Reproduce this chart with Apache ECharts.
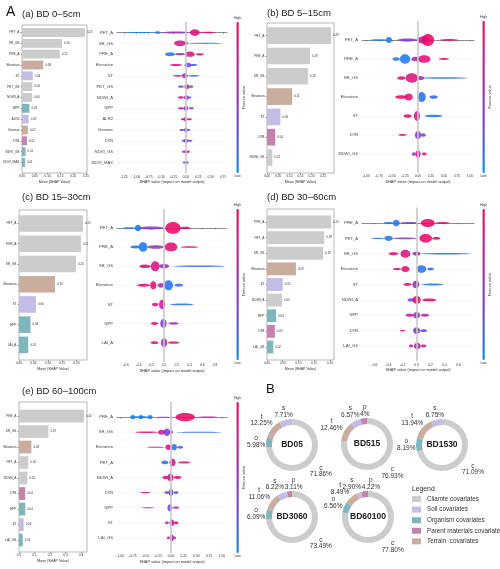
<!DOCTYPE html>
<html>
<head>
<meta charset="utf-8">
<script src="https://cdn.jsdelivr.net/npm/echarts@6/dist/echarts.min.js"></script>
<style>html,body{margin:0;background:#fff}#main{width:500px;height:569px}</style>
</head>
<body>
<div id="main"></div>
<script>
// ---- data ----
// bar panels: feature names, mean |SHAP|, covariate group
var featA = ['PET_A','SR_GS','PRE_A','Elevation','ST','PET_GS','NDWI_A','NPP','ALR2','Geomor','DTB','NDVI_GS','NDVI_MAX'];
var barA = [0.246,0.156,0.148,0.083,0.042,0.040,0.039,0.029,0.026,0.023,0.019,0.014,0.012];
var grpA = ['c','c','c','t','s','c','c','o','s','t','p','o','o'];

var featB = ['PET_A','PRE_A','SR_GS','Elevation','ST','DTB','NDWI_GS'];
var barB = [0.287,0.193,0.183,0.113,0.060,0.037,0.024];
var grpB = ['c','c','c','t','s','p','c'];

var featC = ['PET_A','PRE_A','SR_GS','Elevation','ST','NPP','LAI_A'];
var barC = [0.222,0.215,0.198,0.125,0.059,0.040,0.032];
var grpC = ['c','c','c','t','s','o','o'];

var featD = ['PRE_A','PET_A','SR_GS','Elevation','ST','NDWI_A','NPP','DTB','LAI_GS'];
var barD = [0.204,0.182,0.178,0.092,0.050,0.048,0.029,0.025,0.020];
var grpD = ['c','c','c','t','s','c','o','p','o'];

var featE = ['PRE_A','SR_GS','Elevation','PET_A','NDWI_A','DTB','NPP','ST','LAI_GS'];
var barE = [0.42,0.19,0.08,0.06,0.054,0.04,0.04,0.03,0.024];
var grpE = ['c','c','t','c','c','p','o','s','o'];

// beeswarm clumps: [row, shap centre, shap half-spread, relative density, feature value 0-1]
var swarmA = [
  [0,-0.93,0.30,0.12,0.05],[0,-0.57,0.06,0.4,0.1],[0,-0.20,0.28,0.3,0.45],[0,0.44,0.15,0.2,0.9],[0,0.18,0.10,1.0,0.85],
  [1,0.39,0.35,0.18,0.1],[1,0.0,0.05,0.4,0.5],[1,-0.12,0.12,0.85,0.8],
  [2,-0.12,0.1,0.35,0.45],[2,0.28,0.08,0.3,0.9],[2,-0.32,0.1,0.6,0.1],[2,0.08,0.1,0.8,0.8],
  [3,-0.2,0.12,0.3,0.85],[3,0.15,0.08,0.3,0.2],[3,0.04,0.07,0.7,0.3],
  [4,-0.16,0.1,0.25,0.85],[4,0.16,0.12,0.25,0.15],[4,-0.02,0.06,0.75,0.5],
  [5,-0.1,0.06,0.35,0.2],[5,0.1,0.05,0.35,0.4],[5,0.02,0.05,0.7,0.7],
  [6,-0.1,0.06,0.35,0.8],[6,0.07,0.04,0.3,0.2],[6,0.01,0.05,0.7,0.5],
  [7,-0.1,0.06,0.35,0.8],[7,0.11,0.05,0.3,0.3],[7,0.0,0.05,0.7,0.5],
  [8,-0.06,0.04,0.3,0.8],[8,0.07,0.05,0.3,0.8],[8,-0.01,0.04,0.65,0.6],
  [9,-0.08,0.05,0.3,0.3],[9,0.06,0.03,0.3,0.2],[9,0.0,0.04,0.65,0.4],
  [10,-0.05,0.03,0.3,0.2],[10,0.08,0.05,0.3,0.3],[10,0.0,0.05,0.6,0.4],
  [11,-0.05,0.03,0.3,0.3],[11,0.05,0.03,0.3,0.9],[11,0.0,0.04,0.5,0.6],
  [12,-0.04,0.02,0.3,0.3],[12,0.04,0.02,0.3,0.5],[12,0.0,0.03,0.55,0.7]
];
var swarmB = [
  [0,-0.75,0.17,0.12,0.05],[0,-0.56,0.06,0.5,0.08],[0,-0.2,0.2,0.25,0.35],[0,0.6,0.17,0.15,0.9],[0,0.1,0.12,0.6,0.65],[0,0.19,0.12,1.0,0.9],
  [1,-0.42,0.07,0.3,0.1],[1,-0.05,0.08,0.4,0.5],[1,0.5,0.1,0.15,0.9],[1,-0.25,0.1,0.8,0.08],[1,0.12,0.12,0.65,0.85],
  [2,0.5,0.45,0.12,0.1],[2,-0.32,0.08,0.3,0.85],[2,0.05,0.07,0.35,0.5],[2,-0.12,0.12,0.8,0.8],
  [3,-0.32,0.12,0.3,0.9],[3,0.3,0.08,0.3,0.15],[3,-0.18,0.08,0.6,0.85],[3,0.07,0.08,0.85,0.1],
  [4,-0.2,0.08,0.3,0.9],[4,0.3,0.17,0.2,0.1],[4,-0.02,0.06,0.85,0.75],
  [5,-0.3,0.08,0.15,0.9],[5,0.1,0.05,0.3,0.3],[5,0.0,0.06,0.7,0.4],
  [6,-0.08,0.04,0.3,0.3],[6,0.12,0.05,0.25,0.7],[6,0.0,0.05,0.65,0.65]
];
var swarmC = [
  [0,-0.55,0.1,0.12,0.05],[0,-0.41,0.05,0.55,0.08],[0,-0.2,0.2,0.25,0.4],[0,0.33,0.08,0.2,0.9],[0,0.14,0.12,1.0,0.9],
  [1,-0.45,0.08,0.25,0.1],[1,-0.13,0.13,0.3,0.45],[1,0.4,0.14,0.15,0.9],[1,-0.33,0.07,0.8,0.08],[1,0.11,0.1,0.75,0.85],
  [2,0.55,0.4,0.12,0.1],[2,-0.3,0.09,0.3,0.85],[2,0.0,0.08,0.35,0.5],[2,-0.14,0.07,0.85,0.8],
  [3,-0.32,0.1,0.25,0.9],[3,0.23,0.07,0.25,0.15],[3,-0.05,0.05,0.4,0.6],[3,-0.17,0.05,0.7,0.85],[3,0.07,0.07,0.85,0.1],
  [4,-0.14,0.05,0.3,0.85],[4,0.28,0.18,0.15,0.1],[4,-0.03,0.05,0.8,0.7],
  [5,-0.15,0.06,0.25,0.8],[5,0.15,0.08,0.2,0.5],[5,-0.01,0.05,0.75,0.4],
  [6,-0.15,0.06,0.25,0.85],[6,0.15,0.09,0.2,0.85],[6,0.0,0.05,0.75,0.5]
];
var swarmD = [
  [0,-0.4,0.07,0.2,0.08],[0,-0.1,0.13,0.2,0.4],[0,0.37,0.1,0.2,0.85],[0,-0.29,0.05,0.7,0.08],[0,0.16,0.1,0.85,0.9],
  [1,-0.55,0.1,0.15,0.05],[1,-0.17,0.18,0.2,0.4],[1,0.28,0.06,0.3,0.9],[1,-0.4,0.06,0.55,0.08],[1,0.13,0.09,0.9,0.9],
  [2,0.42,0.35,0.15,0.1],[2,-0.33,0.07,0.3,0.9],[2,0.0,0.06,0.4,0.5],[2,-0.16,0.07,0.85,0.8],
  [3,-0.28,0.06,0.25,0.9],[3,0.2,0.05,0.3,0.15],[3,-0.16,0.06,0.65,0.85],[3,0.07,0.07,0.8,0.1],
  [4,-0.13,0.06,0.3,0.85],[4,0.23,0.15,0.2,0.1],[4,-0.01,0.05,0.8,0.5],
  [5,-0.08,0.05,0.35,0.3],[5,0.18,0.1,0.3,0.9],[5,0.0,0.06,0.8,0.85],
  [6,-0.1,0.06,0.3,0.8],[6,0.12,0.06,0.3,0.6],[6,0.0,0.05,0.7,0.5],
  [7,-0.2,0.04,0.15,0.9],[7,0.1,0.05,0.3,0.3],[7,0.0,0.05,0.7,0.4],
  [8,-0.08,0.03,0.3,0.85],[8,0.1,0.04,0.3,0.7],[8,0.01,0.05,0.7,0.6]
];
var swarmE = [
  [0,-0.6,0.2,0.2,0.1],[0,-0.15,0.15,0.08,0.5],[0,0.72,0.2,0.15,0.7],[0,-0.75,0.05,0.45,0.05],[0,-0.59,0.05,0.45,0.05],[0,-0.41,0.05,0.45,0.05],[0,0.28,0.19,0.9,0.9],
  [1,-0.48,0.22,0.15,0.9],[1,0.55,0.45,0.12,0.1],[1,-0.18,0.08,0.5,0.7],[1,0.0,0.04,0.4,0.5],[1,-0.08,0.06,0.8,0.35],
  [2,-0.3,0.17,0.12,0.9],[2,0.18,0.06,0.3,0.2],[2,-0.05,0.06,0.6,0.85],[2,0.06,0.06,0.7,0.1],
  [3,-0.12,0.07,0.4,0.1],[3,0.26,0.12,0.2,0.95],[3,0.03,0.06,0.8,0.75],
  [4,-0.1,0.07,0.35,0.8],[4,0.13,0.08,0.3,0.85],[4,-0.01,0.06,0.8,0.75],
  [5,-0.5,0.1,0.12,0.9],[5,-0.08,0.05,0.3,0.4],[5,0.1,0.05,0.3,0.3],[5,0.0,0.05,0.75,0.25],
  [6,-0.45,0.12,0.12,0.85],[6,0.1,0.06,0.25,0.6],[6,-0.02,0.05,0.75,0.3],
  [7,-0.08,0.04,0.3,0.5],[7,0.1,0.05,0.3,0.9],[7,0.02,0.05,0.7,0.7],
  [8,-0.05,0.03,0.3,0.9],[8,0.07,0.03,0.3,0.5],[8,0.02,0.04,0.7,0.6]
];

// tick labels
var barTicks25 = [0,0.05,0.10,0.15,0.20,0.25];
var barTicks20 = [0,0.05,0.10,0.15,0.20];
var barTicksE = [0,0.1,0.2,0.3,0.4];
var shapTicksA = [-1.25,-1.0,-0.75,-0.5,-0.25,0,0.25,0.5,0.75];
var shapTicksB = [-1.0,-0.75,-0.5,-0.25,0,0.25,0.5,0.75,1.0];
var shapTicksC = [-0.6,-0.4,-0.2,0,0.2,0.4,0.6,0.8];
var shapTicksD = [-0.6,-0.4,-0.2,0,0.2,0.4,0.6];
var shapTicksE = [-1.0,-0.75,-0.5,-0.25,0,0.25,0.5,0.75,1.0];

// donut shares (%) in order c, o, t, s, p
var donutNames = ['BD05','BD515','BD1530','BD3060','BD60100'];
var donutKeys = ['c','o','t','s','p'];
var shareBD05 = [71.86,5.98,12.25,7.71,0];
var shareBD515 = [76.93,0,12.46,6.57,4];
var shareBD1530 = [71.09,8.19,13.94,6.75,0];
var shareBD3060 = [73.49,6.09,11.06,6.22,3.11];
var shareBD60100 = [77.80,6.56,8.49,2.90,4.22];
var legendNames = ['Cliamte covariates','Soil covariates','Organism covariates','Parent materials covariates','Terrain  covariates'];

// ---- styles ----
var grpColor = {c:'#cccccc', s:'#c3bde6', o:'#7fb6be', p:'#c582ad', t:'#c9ad9f'};
var grpName = {c:'Cliamte covariates', s:'Soil covariates', o:'Organism covariates', p:'Parent materials covariates', t:'Terrain  covariates'};
var shapColors = ['#008bfb','#7a3fd8','#c21fa0','#ff0052'];
var txt = '#333';
var fontFam = 'Liberation Sans, Arial, sans-serif';

var chart = echarts.init(document.getElementById('main'));
var option = {
  animation: false,
  backgroundColor: '#fff',
  textStyle: {fontFamily: fontFam},
  title: [], grid: [], xAxis: [], yAxis: [], series: [], visualMap: [], graphic: []
};

function fmt(dec) { return function (v) { return v.toFixed(dec); }; }
function pct(v) { return (Number.isInteger(v) ? v : v.toFixed(2)) + '%'; }

function addPanel(p) {
  var g = option.grid.length;
  var n = p.feat.length;
  option.title.push({text: p.title, left: p.tx, top: p.ty, padding: 0,
    textStyle: {fontSize: 9.5, fontWeight: 'normal', color: '#222'}});

  // frame of the bar plot, carries the visible x axis
  option.grid.push({left: p.frame[0], top: p.frame[1], width: p.frame[2], height: p.frame[3],
    show: true, borderColor: '#9a9a9a', borderWidth: 0.7});
  option.xAxis.push({gridIndex: g, type: 'value', min: 0, max: p.barMax,
    axisLine: {show: false},
    axisTick: {show: true, length: 1.5, customValues: p.barTicks, lineStyle: {color: '#555', width: 0.5}},
    axisLabel: {customValues: p.barTicks, fontSize: 3.2, color: txt, margin: 2, formatter: fmt(p.barDec)},
    splitLine: {show: false},
    name: 'Mean |SHAP Value|', nameLocation: 'middle', nameGap: 7,
    nameTextStyle: {fontSize: 3.6, color: txt}});
  option.yAxis.push({gridIndex: g, type: 'value', show: false});

  // bar rows
  option.grid.push({left: p.frame[0], top: p.band[0], width: p.frame[2], height: p.band[1] - p.band[0]});
  option.xAxis.push({gridIndex: g + 1, type: 'value', min: 0, max: p.barMax, show: false});
  option.yAxis.push({gridIndex: g + 1, type: 'category', inverse: true, data: p.feat,
    axisLine: {show: false},
    axisTick: {show: true, length: 1.5, alignWithLabel: true, lineStyle: {color: '#555', width: 0.5}},
    axisLabel: {fontSize: 3.2, color: txt, margin: 2.5}});
  option.series.push({type: 'bar', xAxisIndex: g + 1, yAxisIndex: g + 1, silent: true,
    barCategoryGap: '18%',
    data: p.bar.map(function (v, i) { return {value: v, itemStyle: {color: grpColor[p.grp[i]]}}; }),
    label: {show: true, position: 'right', distance: 2, fontSize: 2.9, color: txt,
      formatter: function (q) { return q.value.toFixed(2); }}});

  // beeswarm
  option.grid.push({left: p.sw[0], top: p.sw[1], width: p.sw[2], height: p.sw[3]});
  option.xAxis.push({gridIndex: g + 2, type: 'value', min: p.shapMin, max: p.shapMax,
    axisLine: {show: true, lineStyle: {color: '#444', width: 0.6}},
    axisTick: {show: true, length: 1.5, customValues: p.shapTicks, lineStyle: {color: '#444', width: 0.5}},
    axisLabel: {customValues: p.shapTicks, fontSize: 3.3, color: txt, margin: 2, formatter: fmt(p.shapDec)},
    splitLine: {show: false},
    name: 'SHAP value (impact on model output)', nameLocation: 'middle', nameGap: 7,
    nameTextStyle: {fontSize: 3.9, color: txt}});
  option.yAxis.push({gridIndex: g + 2, type: 'value', inverse: true, min: -1, max: n, interval: 1,
    axisLine: {show: false}, axisTick: {show: false},
    axisLabel: {fontSize: 4.2, color: '#444', margin: 4,
      formatter: function (v) { return p.feat[v] || ''; }},
    splitLine: {show: true, showMinLine: false, showMaxLine: false,
      lineStyle: {color: '#d8d8d8', width: 0.5, type: [1, 1.5]}}});
  option.series.push({type: 'line', xAxisIndex: g + 2, yAxisIndex: g + 2, data: [], z: 1,
    markLine: {silent: true, symbol: 'none', label: {show: false},
      lineStyle: {color: '#c9c9c9', width: 1.6, type: 'solid'}, data: [{xAxis: 0}]}});
  var si = option.series.length;
  option.series.push({type: 'custom', xAxisIndex: g + 2, yAxisIndex: g + 2, z: 3, silent: true,
    encode: {x: 1, y: 0}, data: p.swarm,
    renderItem: function (params, api) {
      var row = api.value(0), c = api.value(1), s = api.value(2), d = api.value(3);
      var a = api.coord([c - s, row]), b = api.coord([c + s, row]);
      var unit = Math.abs(api.coord([c, row + 1])[1] - a[1]);
      return {type: 'ellipse',
        shape: {cx: (a[0] + b[0]) / 2, cy: a[1], rx: Math.max(0.6, (b[0] - a[0]) / 2), ry: Math.max(0.45, d * unit * 0.31)},
        style: {fill: api.visual('color'), opacity: 0.88}};
    }});
  option.visualMap.push({type: 'continuous', seriesIndex: si, dimension: 4, min: 0, max: 1,
    inRange: {color: shapColors}, orient: 'vertical', calculable: false, padding: 0,
    left: p.cb[0], top: p.cb[1] - 5.5, itemWidth: 2.4, itemHeight: p.cb[2],
    text: ['High', 'Low'], textGap: 1.5, textStyle: {fontSize: 3.5, color: txt}});
  option.graphic.push({type: 'text', x: p.cb[0] + 10, y: p.cb[1] + p.cb[2] / 2, rotation: Math.PI / 2,
    style: {text: 'Feature value', fontSize: 3.8, fill: txt, align: 'center', verticalAlign: 'middle'}});
}

addPanel({feat: featA, bar: barA, grp: grpA, swarm: swarmA, title: '(a) BD 0\u20135cm', tx: 22, ty: 9,
  frame: [22, 25, 65, 148], band: [27.1, 167.9], barMax: 0.254, barTicks: barTicks25, barDec: 2,
  sw: [117, 21.7, 110, 151.6], shapMin: -1.39, shapMax: 0.83, shapTicks: shapTicksA, shapDec: 2,
  cb: [234, 22, 151]});
addPanel({feat: featB, bar: barB, grp: grpB, swarm: swarmB, title: '(b) BD 5\u201315cm', tx: 267, ty: 8,
  frame: [267, 23, 67, 150], band: [25.5, 167.7], barMax: 0.30, barTicks: barTicks25, barDec: 2,
  sw: [362, 21, 112, 152], shapMin: -1.08, shapMax: 1.08, shapTicks: shapTicksB, shapDec: 2,
  cb: [480, 21, 152]});
addPanel({feat: featC, bar: barC, grp: grpC, swarm: swarmC, title: '(c) BD 15\u201330cm', tx: 22, ty: 192,
  frame: [19, 210, 68, 150], band: [213.4, 355], barMax: 0.236, barTicks: barTicks20, barDec: 2,
  sw: [117, 208.8, 110, 153], shapMin: -0.74, shapMax: 0.99, shapTicks: shapTicksC, shapDec: 1,
  cb: [234, 209, 151]});
addPanel({feat: featD, bar: barD, grp: grpD, swarm: swarmD, title: '(d) BD 30\u201360cm', tx: 267, ty: 192,
  frame: [267, 209, 67, 151], band: [214.2, 354.8], barMax: 0.213, barTicks: barTicks20, barDec: 2,
  sw: [362, 207.6, 112, 153.8], shapMin: -0.78, shapMax: 0.82, shapTicks: shapTicksD, shapDec: 1,
  cb: [480, 209, 151]});
addPanel({feat: featE, bar: barE, grp: grpE, swarm: swarmE, title: '(e) BD 60\u2013100cm', tx: 22, ty: 386,
  frame: [19, 402, 68, 150], band: [408.3, 547.8], barMax: 0.439, barTicks: barTicksE, barDec: 1,
  sw: [117, 402, 110, 151], shapMin: -1.06, shapMax: 1.1, shapTicks: shapTicksE, shapDec: 2,
  cb: [234, 402, 151]});

option.title.push({text: 'A', left: 6, top: 5, padding: 0, textStyle: {fontSize: 14, fontWeight: 'normal', color: '#111'}});
option.title.push({text: 'B', left: 266, top: 383, padding: 0, textStyle: {fontSize: 13, fontWeight: 'normal', color: '#111'}});
option.title.push({text: 'Legend', left: 412, top: 486, padding: 0, textStyle: {fontSize: 6.8, fontWeight: 'normal', color: txt}});

// donuts
var ringR = [20, 26];
var labelFont = 6.5, labelLH = 6.6;
var shares = [shareBD05, shareBD515, shareBD1530, shareBD3060, shareBD60100];
var centres = [[292, 445], [367, 444], [442, 445], [292, 517], [368, 517]];
var measureCtx = document.createElement('canvas').getContext('2d');
measureCtx.font = labelFont + 'px ' + fontFam;

// label centres: along each slice's mid direction, just clear of the ring,
// neighbours pushed apart sideways when their boxes touch
function placeLabels(data, centre) {
  var total = 0;
  data.forEach(function (it) { total += it.value; });
  var before = 0, out = [];
  data.forEach(function (it) {
    var mid = (before + it.value / 2) / total * 2 * Math.PI;
    before += it.value;
    var ux = Math.sin(mid), uy = -Math.cos(mid);
    var w = measureCtx.measureText(pct(it.value)).width / 2, h = labelLH;
    var d = ringR[1];
    while (d < ringR[1] + 40) {
      var nx = Math.max(0, Math.abs(d * ux) - w), ny = Math.max(0, Math.abs(d * uy) - h);
      if (Math.sqrt(nx * nx + ny * ny) >= ringR[1] + 0.5) break;
      d += 0.25;
    }
    out.push({x: centre[0] + d * ux, y: centre[1] + d * uy, w: w, h: h});
  });
  for (var i = 0; i < out.length; i++) {
    var a = out[i], b = out[(i + 1) % out.length];
    if (a === b) continue;
    var ox = a.w + b.w - Math.abs(a.x - b.x), oy = a.h + b.h - Math.abs(a.y - b.y);
    if (ox > 0 && oy > 0) {
      var sgn = a.x < b.x ? 1 : -1;
      a.x -= sgn * (ox / 2 + 0.3);
      b.x += sgn * (ox / 2 + 0.3);
    }
  }
  return out;
}

var pieLabels = {};
shares.forEach(function (arr, k) {
  var data = [];
  arr.forEach(function (v, i) {
    if (v > 0) data.push({name: grpName[donutKeys[i]], key: donutKeys[i], value: v,
      itemStyle: {color: grpColor[donutKeys[i]]}});
  });
  pieLabels[option.series.length] = placeLabels(data, centres[k]);
  option.series.push({type: 'pie', center: centres[k], radius: ringR, startAngle: 90, clockwise: true,
    avoidLabelOverlap: false, silent: true, data: data,
    label: {show: true, position: 'outside', color: txt, fontSize: labelFont, lineHeight: labelLH,
      formatter: function (q) { return q.data.key + '\n' + pct(q.value); }},
    labelLine: {show: false, length: 2, length2: 0},
    labelLayout: function (q) {
      var pos = pieLabels[q.seriesIndex][q.dataIndex];
      return {x: pos.x, y: pos.y, align: 'center', verticalAlign: 'middle', hideOverlap: false};
    }});
  option.graphic.push({type: 'text', x: centres[k][0], y: centres[k][1],
    style: {text: donutNames[k], fontSize: 8.5, fontWeight: 'bold', fill: '#222', align: 'center', verticalAlign: 'middle'}});
});

option.legend = {data: legendNames, orient: 'vertical', left: 412, top: 496, padding: 0,
  itemWidth: 9, itemHeight: 6, itemGap: 4.6, icon: 'rect', selectedMode: false,
  textStyle: {fontSize: 6.3, color: txt, padding: [0, 0, 0, 1]}};

chart.setOption(option);
</script>
</body>
</html>
